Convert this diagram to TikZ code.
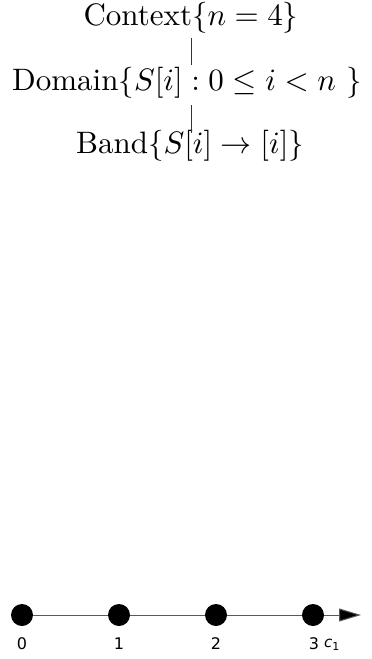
\documentclass[tikz,border=0pt]{standalone}
\usepackage{amsmath}
\usepackage{amssymb}
\usepackage{fontspec}
\newfontfamily\dejavu{DejaVu Sans}
\usetikzlibrary{arrows.meta}

\begin{document}
\begin{tikzpicture}[x=1pt,y=-1pt]
    \useasboundingbox (0,0) rectangle (372,659);
    \node[inner sep=0pt,anchor=base] (ctx) at (191,25) {\scalebox{3.1}{Context$\{n=4\}$}};
    \node[inner sep=0pt,anchor=base] (dom) at (187,90) {\scalebox{3.1}{Domain$\{S[i]:0\leq i<n~\}$}};
    \node[inner sep=0pt,anchor=base] (band) at (190,153) {\scalebox{3.1}{Band$\{S[i]\rightarrow[i]\}$}};
    \draw[black!80,shorten <=5pt,shorten >=2pt] (191,0 |- ctx.south) -- (191,0 |- dom.north);
    \draw[black!80,shorten <=7pt,shorten >=-3pt] (191,0 |- dom.south) -- (191,0 |- band.north);
    \node[circle,fill=black,inner sep=0pt,minimum size=22pt] (d0) at (22,615) {};
    \node[circle,fill=black,inner sep=0pt,minimum size=22pt] (d1) at (119,615) {};
    \node[circle,fill=black,inner sep=0pt,minimum size=22pt] (d2) at (216,615) {};
    \node[circle,fill=black,inner sep=0pt,minimum size=22pt] (d3) at (313,615) {};
    \coordinate (tip) at (361,615);
    \draw[black!65,line width=1pt] (d0)--(d1)--(d2)--(d3);
    \draw[black!65,line width=1pt,-{Triangle[length=22pt,width=13pt,fill=black]}] (d3)--(tip);
    \node[font=\dejavu\fontsize{16}{18}\selectfont,anchor=base] (l0) at (22,649) {0};
    \node[font=\dejavu\fontsize{16}{18}\selectfont,anchor=base] (l1) at (119,649) {1};
    \node[font=\dejavu\fontsize{16}{18}\selectfont,anchor=base] (l2) at (216,649) {2};
    \node[font=\dejavu\fontsize{16}{18}\selectfont,anchor=base] (l3) at (314,649) {3};
    \node[font=\dejavu\fontsize{15}{18}\selectfont,anchor=base west,inner sep=0pt] (c1) at (324,647) {\textit{c}\raisebox{-3pt}{\fontsize{11}{12}\selectfont 1}};
\end{tikzpicture}
\end{document}
